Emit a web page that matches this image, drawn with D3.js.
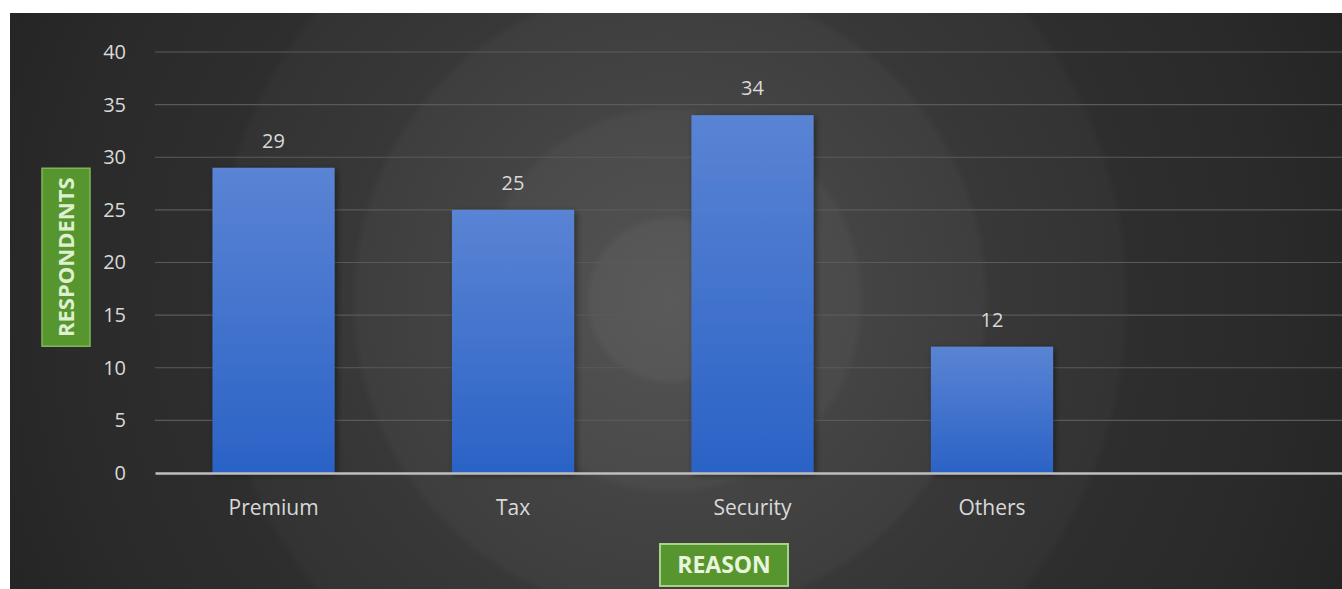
<!DOCTYPE html>
<html>
<head>
<meta charset="utf-8">
<script src="https://cdn.jsdelivr.net/npm/d3@7"></script>
<style>
  body { margin: 0; background: #fff; }
  svg { display: block; }
  svg text { font-family: "Open Sans", "Noto Sans", sans-serif; }
</style>
</head>
<body>
<div id="chart"></div>
<script>
const categories = ["Premium", "Tax", "Security", "Others"];
const respondents = [29, 25, 34, 12];
const yTicks = [0, 5, 10, 15, 20, 25, 30, 35, 40];

const W = 1342, H = 589;
const frame = { left: 10, top: 13 };
const margin = { top: 52, right: -8, bottom: 116, left: 155 };

const svg = d3.select("#chart").append("svg")
    .attr("width", W)
    .attr("height", H);

const defs = svg.append("defs");

// ---- Background ----
const bg = defs.append("radialGradient")
    .attr("id", "bg")
    .attr("gradientUnits", "userSpaceOnUse")
    .attr("cx", 670).attr("cy", 300).attr("r", 780);
[
    [0, "#5a5a5a"], [0.1, "#565656"], [0.11, "#4f4f4f"], [0.24, "#4a4a4a"],
    [0.25, "#444444"], [0.4, "#3e3e3e"], [0.41, "#383838"], [0.58, "#333333"],
    [0.59, "#2e2e2e"], [0.78, "#292a29"], [1, "#212221"]
].forEach(([o, c]) => bg.append("stop").attr("offset", o).attr("stop-color", c));

svg.append("rect")
    .attr("x", frame.left).attr("y", frame.top)
    .attr("width", W - frame.left).attr("height", H - frame.top)
    .attr("fill", "url(#bg)");

const barGrad = defs.append("linearGradient")
    .attr("id", "bar").attr("x1", 0).attr("y1", 0).attr("x2", 0).attr("y2", 1);
barGrad.append("stop").attr("offset", 0).attr("stop-color", "#5a84d4");
barGrad.append("stop").attr("offset", 1).attr("stop-color", "#2b62c6");

const shadow = defs.append("filter").attr("id", "shadow")
    .attr("x", "-10%").attr("y", "-10%").attr("width", "130%").attr("height", "130%");
shadow.append("feDropShadow")
    .attr("dx", 2).attr("dy", 2).attr("stdDeviation", 3)
    .attr("flood-color", "#000").attr("flood-opacity", 0.45);

// ---- Scales ----
const innerW = W - margin.left - margin.right;
const innerH = 421;   // zero line sits at ~473

const x = d3.scaleBand()
    .domain([...categories, ""])   // Excel leaves an empty slot at the right
    .range([margin.left, margin.left + innerW])
    .paddingInner(0.49)
    .paddingOuter(0.24);

const y = d3.scaleLinear()
    .domain([0, 40])
    .range([margin.top + innerH, margin.top]);

// ---- Gridlines ----
svg.append("g")
    .selectAll("line")
    .data(yTicks.filter(d => d > 0))
    .enter().append("line")
    .attr("x1", margin.left).attr("x2", W)
    .attr("y1", d => y(d)).attr("y2", d => y(d))
    .attr("stroke", "#5a5a5a")
    .attr("stroke-width", 1.2);

// ---- Y axis ----
const yAxis = svg.append("g")
    .attr("transform", `translate(${margin.left - 29}, 0)`)
    .call(d3.axisLeft(y).tickValues(yTicks).tickSize(0).tickPadding(0));
yAxis.attr("font-family", null);
yAxis.select(".domain").remove();
yAxis.selectAll("text")
    .attr("fill", "#d9d9d9")
    .style("font-size", "20px");

// ---- Bars ----
svg.append("g")
    .selectAll("rect")
    .data(categories)
    .enter().append("rect")
    .attr("x", d => x(d))
    .attr("y", (d, i) => y(respondents[i]))
    .attr("width", x.bandwidth())
    .attr("height", (d, i) => y(0) - y(respondents[i]))
    .attr("fill", "url(#bar)")
    .attr("filter", "url(#shadow)");

// value labels
svg.append("g")
    .selectAll("text")
    .data(categories)
    .enter().append("text")
    .attr("x", d => x(d) + x.bandwidth() / 2)
    .attr("y", (d, i) => y(respondents[i]) - 20)
    .attr("text-anchor", "middle")
    .attr("fill", "#d9d9d9")
    .style("font-size", "20px")
    .text((d, i) => respondents[i]);

// ---- X axis ----
const xAxis = svg.append("g")
    .attr("transform", `translate(0, ${y(0)})`)
    .call(d3.axisBottom(x).tickSize(0).tickPadding(27));
xAxis.attr("font-family", null);
xAxis.select(".domain")
    .attr("stroke", "#bfbfbf")
    .attr("stroke-width", 2.5);
xAxis.selectAll("text")
    .attr("fill", "#d9d9d9")
    .style("font-size", "21px");

// ---- Axis titles ----
const yTitle = svg.append("g")
    .attr("transform", `translate(66, ${y(20.5)}) rotate(-90)`);
yTitle.append("rect")
    .attr("x", -89).attr("y", -24)
    .attr("width", 178).attr("height", 48)
    .attr("fill", "#57962e")
    .attr("stroke", "#7fb858")
    .attr("stroke-width", 1.5);
yTitle.append("text")
    .attr("text-anchor", "middle")
    .attr("dy", "0.36em")
    .attr("fill", "#dff0d0")
    .style("font-size", "22px")
    .style("font-weight", "bold")
    .text("RESPONDENTS");

const xTitle = svg.append("g")
    .attr("transform", `translate(724, 565)`);
xTitle.append("rect")
    .attr("x", -64).attr("y", -21)
    .attr("width", 128).attr("height", 42)
    .attr("fill", "#57962e")
    .attr("stroke", "#a6d38a")
    .attr("stroke-width", 2);
xTitle.append("text")
    .attr("text-anchor", "middle")
    .attr("dy", "0.36em")
    .attr("fill", "#e8f5dc")
    .style("font-size", "23px")
    .style("font-weight", "bold")
    .text("REASON");
</script>
</body>
</html>
